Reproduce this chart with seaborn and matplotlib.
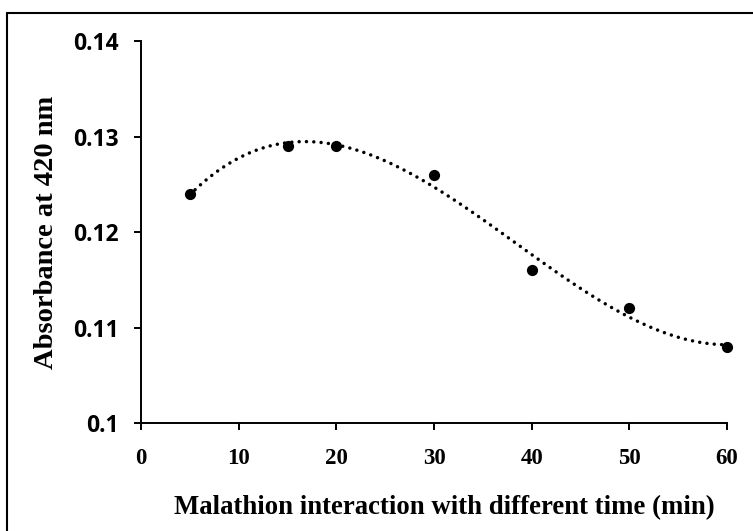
import matplotlib
matplotlib.use("Agg")
import matplotlib.pyplot as plt
import seaborn as sns
import pandas as pd
from matplotlib.lines import Line2D

time_min = [5, 15, 20, 30, 40, 50, 60]
absorbance = [0.124, 0.129, 0.129, 0.126, 0.116, 0.112, 0.108]
x_ticks = [0, 10, 20, 30, 40, 50, 60]
y_ticks = [0.10, 0.11, 0.12, 0.13, 0.14]
y_tick_labels = ["0.1", "0.11", "0.12", "0.13", "0.14"]
x_label = "Malathion interaction with different time (min)"
y_label = "Absorbance at 420 nm"

df = pd.DataFrame({"time": time_min, "abs": absorbance})

sns.set_theme(style="ticks")
fig = plt.figure(figsize=(7.53, 5.31), dpi=100)
ax = fig.add_axes([141/753, 1-423/531, (727-141)/753, (423-41)/531])

sns.regplot(data=df, x="time", y="abs", order=3, ci=None, truncate=True,
            scatter=False, ax=ax,
            line_kws=dict(color="black", lw=2.5, linestyle=(0, (0.01, 2.1)),
                          dash_capstyle="round"))
sns.scatterplot(data=df, x="time", y="abs", ax=ax, color="black", s=65,
                edgecolor="black", linewidth=0, zorder=5, clip_on=False)

ax.set_xlim(0, 60)
ax.set_ylim(0.10, 0.14)
ax.set_xticks(x_ticks)
ax.set_xticklabels([str(t) for t in x_ticks], fontfamily="Liberation Serif",
                   fontweight="bold", fontsize=16.5)
ax.set_yticks(y_ticks)
ax.set_yticklabels(y_tick_labels, fontfamily="Open Sans", fontweight="bold",
                   fontsize=16.5)
for s in ["top", "right"]:
    ax.spines[s].set_visible(False)
for s in ["left", "bottom"]:
    ax.spines[s].set_linewidth(1.4)
    ax.spines[s].set_color("black")
ax.tick_params(axis="both", length=5, width=1.4, color="black", labelcolor="black")
ax.tick_params(axis="x", pad=13)
ax.tick_params(axis="y", pad=11)
ax.set_xlabel(x_label, fontfamily="Liberation Serif", fontweight="bold",
              fontsize=19.3, color="black")
ax.xaxis.set_label_coords(0.517, -0.188)
ax.set_ylabel(y_label, fontfamily="Liberation Serif", fontweight="bold",
              fontsize=20.5, labelpad=10, color="black")

fig.add_artist(Line2D([7/753, 7/753], [0, 1-13/531], transform=fig.transFigure,
                      color="black", lw=1.5))
fig.add_artist(Line2D([7/753, 1], [1-13/531, 1-13/531], transform=fig.transFigure,
                      color="black", lw=1.5))

fig.savefig("out.png", dpi=100)
